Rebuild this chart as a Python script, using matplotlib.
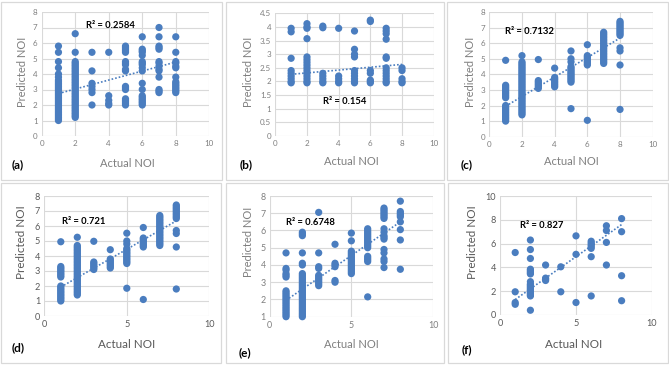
import matplotlib
matplotlib.use("Agg")
import matplotlib.pyplot as plt
from matplotlib.patches import Rectangle
import numpy as np

plt.rcParams['font.family'] = ['Lato', 'DejaVu Sans']

# ---------------- data ----------------
actual_noi = [1, 2, 3, 4, 5, 6, 7, 8]

a_pred = [
    [5.8, 5.4, 4.8, 4.4, 4.0, 3.8, 3.6, 3.5, 3.4, 3.3, 3.2, 3.1, 3.0, 2.9, 2.8, 2.7, 2.6, 2.5, 2.4,
     2.3, 2.2, 2.1, 2.0, 1.9, 1.8, 1.7, 1.6, 1.5, 1.4, 1.3, 1.2, 1.1, 1.0],
    [6.6, 5.4, 4.8, 4.7, 4.6, 4.5, 4.4, 4.3, 4.2, 4.1, 4.0, 3.9, 3.8, 3.7, 3.6, 3.5, 3.4, 3.3, 3.2,
     3.1, 3.0, 2.9, 2.8, 2.7, 2.6, 2.5, 2.4, 2.3, 2.2, 2.1, 2.0, 1.9, 1.8, 1.7, 1.6, 1.5, 1.4, 1.3, 1.2],
    [5.4, 4.2, 3.4, 3.2, 3.0, 2.8, 2.0],
    [5.4, 2.6, 2.3, 2.1, 2.0],
    [5.8, 5.7, 5.6, 5.5, 5.4, 4.8, 4.7, 4.6, 4.3, 4.2, 3.2, 3.1, 3.0, 2.4, 2.3, 2.2, 2.1, 2.0],
    [6.4, 5.6, 5.5, 5.4, 5.2, 4.8, 4.7, 4.6, 4.4, 4.2, 3.4, 3.0, 2.6, 2.5, 2.4, 2.3, 2.2, 2.1, 2.0],
    [7.0, 6.4, 5.8, 5.7, 5.6, 4.8, 4.7, 4.5, 4.3, 4.2, 3.8, 3.0, 2.9, 2.8],
    [6.4, 5.4, 4.8, 4.7, 4.5, 4.4, 3.8, 3.5, 3.4, 3.3, 3.2, 3.1, 3.0, 2.9, 2.8],
]
b_pred = [
    [3.95, 3.82, 2.85, 2.4, 2.3, 2.2, 2.1, 2.0, 1.95],
    [4.12, 4.0, 3.95, 3.57, 2.9, 2.8, 2.7, 2.6, 2.5, 2.4, 2.3, 2.2, 2.1, 2.0, 1.95],
    [4.03, 3.97, 2.3, 2.2, 2.1, 2.0, 1.95],
    [3.95, 2.2, 2.1, 2.0, 1.95],
    [3.85, 3.18, 3.0, 2.9, 2.4, 2.3, 2.2, 2.1, 2.0, 1.95],
    [4.25, 4.2, 2.4, 2.3, 2.05, 2.0, 1.95],
    [3.95, 3.85, 3.75, 3.55, 2.9, 2.85, 2.5, 2.4, 2.3, 2.2, 2.1, 2.0, 1.95],
    [2.5, 2.4, 2.1, 2.0, 1.95],
]
c_pred = [
    [4.9, 3.3, 3.2, 3.1, 3.0, 2.9, 2.8, 2.7, 2.6, 2.5, 2.0, 1.9, 1.8, 1.7, 1.6, 1.5, 1.4, 1.3, 1.2, 1.1, 1.0],
    [5.2, 4.8, 4.7, 4.6, 4.5, 4.4, 4.3, 4.2, 4.1, 4.0, 3.9, 3.8, 3.7, 3.6, 3.5, 3.4, 3.3, 3.2, 3.1,
     3.0, 2.9, 2.8, 2.7, 2.6, 2.5, 2.4, 2.3, 2.2, 2.1, 2.0, 1.9, 1.8, 1.7, 1.6, 1.5, 1.4],
    [4.95, 3.6, 3.5, 3.4, 3.3, 3.2, 3.1],
    [4.4, 3.8, 3.7, 3.6, 3.5, 3.4, 3.3, 3.2],
    [5.5, 5.0, 4.8, 4.5, 4.4, 4.3, 4.2, 4.1, 4.0, 3.9, 3.8, 3.7, 3.6, 3.5, 1.8],
    [5.9, 5.2, 5.1, 5.0, 4.9, 4.8, 4.7, 4.6, 1.05],
    [6.7, 6.6, 6.5, 6.4, 6.3, 6.2, 6.1, 6.0, 5.9, 5.8, 5.7, 5.6, 5.5, 5.4, 5.3, 5.2, 5.1, 5.0, 4.9, 4.8, 4.7],
    [7.4, 7.3, 7.2, 7.1, 7.0, 6.9, 6.8, 6.7, 6.6, 6.5, 5.7, 5.5, 4.6, 1.75],
]
d_pred = [
    [4.95, 3.3, 3.2, 3.1, 3.0, 2.9, 2.8, 2.7, 2.6, 2.0, 1.9, 1.8, 1.7, 1.6, 1.5, 1.4, 1.3, 1.2, 1.1, 1.0],
    [5.25, 4.7, 4.6, 4.5, 4.4, 4.3, 4.2, 4.1, 4.0, 3.9, 3.8, 3.7, 3.6, 3.5, 3.4, 3.3, 3.2, 3.1,
     3.0, 2.9, 2.8, 2.7, 2.6, 2.5, 2.4, 2.3, 2.2, 2.1, 2.0, 1.9, 1.8, 1.7, 1.6, 1.5, 1.4],
    [4.98, 3.6, 3.5, 3.4, 3.3, 3.2, 3.1],
    [4.42, 3.8, 3.7, 3.6, 3.5, 3.4, 3.3, 3.2],
    [5.52, 5.0, 4.8, 4.5, 4.4, 4.3, 4.2, 4.1, 4.0, 3.9, 3.8, 3.7, 3.6, 3.5, 1.85],
    [5.9, 5.2, 5.1, 5.0, 4.9, 4.8, 4.7, 4.6, 1.1],
    [6.7, 6.6, 6.5, 6.4, 6.3, 6.2, 6.1, 6.0, 5.9, 5.8, 5.7, 5.6, 5.5, 5.4, 5.3, 5.2, 5.1, 5.0, 4.9, 4.8, 4.7],
    [7.4, 7.3, 7.2, 7.1, 7.0, 6.9, 6.8, 6.7, 6.6, 6.5, 5.7, 5.5, 4.6, 1.8],
]
e_pred = [
    [4.7, 3.8, 3.7, 3.5, 3.4, 3.3, 2.5, 2.4, 2.3, 2.2, 2.1, 2.0, 1.9, 1.8, 1.7, 1.6, 1.5, 1.4, 1.3, 1.2, 1.1, 1.0],
    [5.9, 5.8, 5.7, 4.7, 4.1, 4.0, 3.5, 3.4, 3.3, 3.2, 3.1, 3.0, 2.9, 2.8, 2.7, 2.6, 2.5, 2.4, 2.3,
     2.2, 2.1, 2.0, 1.9, 1.8, 1.7, 1.6, 1.5, 1.4, 1.3, 1.2, 1.1, 1.0],
    [7.05, 4.7, 3.9, 3.8, 3.4, 3.3, 3.2, 3.1, 3.0, 2.9, 2.8],
    [5.2, 4.1, 4.0, 3.9, 3.1, 3.0],
    [5.85, 5.4, 4.8, 4.7, 4.6, 4.5, 4.4, 4.3, 4.2, 4.1, 4.0, 3.9, 3.8, 3.7, 3.6, 3.5],
    [6.1, 6.0, 5.9, 5.8, 5.7, 5.6, 5.5, 5.4, 5.3, 5.2, 5.1, 5.0, 4.5, 4.4, 4.3, 4.2, 2.15],
    [7.3, 7.2, 7.1, 7.0, 6.9, 6.8, 6.7, 6.1, 5.9, 5.7, 5.6, 5.5, 4.9, 4.7, 4.35, 4.2, 3.85],
    [7.7, 7.1, 7.0, 6.9, 6.8, 6.5, 6.05, 5.45, 3.75],
]
f_pred = [
    [5.25, 1.95, 1.05, 0.9],
    [6.3, 5.5, 4.75, 3.85, 3.75, 3.65, 3.55, 3.45, 2.8, 2.6, 2.5, 2.4, 2.3, 2.2, 2.1, 2.0, 1.9,
     1.8, 1.7, 1.6, 0.4],
    [4.2, 3.1, 3.0, 2.9],
    [4.05, 1.95],
    [6.65, 5.1, 1.05],
    [6.2, 6.05, 5.9, 5.75, 5.6, 4.9, 1.6],
    [7.5, 7.1, 6.1, 4.2],
    [8.1, 7.0, 3.3, 1.2],
]

# trend lines: (intercept, slope)
trend_a = (2.45, 0.29)
trend_b = (2.21, 0.052)
trend_c = (1.33, 0.625)
trend_d = (1.30, 0.63)
trend_e = (1.30, 0.65)
trend_f = (0.40, 0.90)

r2_labels = ["R\u00b2 = 0.2584", "R\u00b2 = 0.154", "R\u00b2 = 0.7132",
             "R\u00b2 = 0.721", "R\u00b2 = 0.6748", "R\u00b2 = 0.827"]
panel_labels = ["(a)", "(b)", "(c)", "(d)", "(e)", "(f)"]

# ---------------- layout ----------------
W, H = 669, 365
fig = plt.figure(figsize=(W / 100, H / 100), dpi=100)
BLUE = '#4a7dbf'
GRID = '#d9d9d9'


def fx(px):
    return px / W


def fy(py):
    return 1 - py / H


# panel frames (pixel boxes: left, top, right, bottom)
frames = [(1, 2, 222, 180), (226, 2, 444, 180), (447, 2, 668, 180),
          (1, 183, 221, 363), (226, 183, 444, 363), (448, 183, 668, 363)]
for (l, t, r, b) in frames:
    fig.add_artist(Rectangle((fx(l), fy(b)), fx(r) - fx(l), fy(t) - fy(b),
                             transform=fig.transFigure, fill=False,
                             edgecolor=GRID, lw=0.9))

# axes boxes (pixel: left, top, right, bottom)
boxes = [(41.7, 12, 209.3, 136), (275.3, 13.3, 433.7, 136), (489.3, 12, 652.7, 136.7),
         (44.3, 196, 209.3, 316), (269.7, 196, 433, 316.7), (500, 196, 652, 315)]

specs = [
    dict(data=a_pred, trend=trend_a, ylim=(0, 8), yticks=np.arange(0, 9, 1), xticks=[0, 2, 4, 6, 8, 10],
         r2pos=(2.62, 7.1), ylabx=22, ylaby=72, xlab=(127, 163), plab=(12, 165), fs_t=5.8, fs_l=8.0,
         ylabels=None),
    dict(data=b_pred, trend=trend_b, ylim=(0, 4.5), yticks=np.arange(0, 4.51, 0.5), xticks=[0, 2, 4, 6, 8, 10],
         r2pos=(3.0, 1.27), ylabx=248, ylaby=72, xlab=(351, 162), plab=(240, 165), fs_t=5.8, fs_l=8.0,
         ylabels=['0', '0.5', '1', '1.5', '2', '2.5', '3', '3.5', '4', '4.5']),
    dict(data=c_pred, trend=trend_c, ylim=(0, 8), yticks=np.arange(0, 9, 1), xticks=[0, 2, 4, 6, 8, 10],
         r2pos=(0.98, 6.78), ylabx=471, ylaby=72, xlab=(571, 162), plab=(461, 165), fs_t=5.8, fs_l=8.0,
         ylabels=None),
    dict(data=d_pred, trend=trend_d, ylim=(0, 8), yticks=np.arange(0, 9, 1), xticks=[0, 5, 10],
         r2pos=(1.1, 6.3), ylabx=22, ylaby=242, xlab=(127, 344), plab=(12, 348), fs_t=6.6, fs_l=8.4,
         ylabels=None),
    dict(data=e_pred, trend=trend_e, ylim=(1, 8), yticks=np.arange(1, 9, 1), xticks=[0, 5, 10],
         r2pos=(1.02, 6.47), ylabx=248, ylaby=242, xlab=(351, 345), plab=(239, 353), fs_t=6.4, fs_l=8.0,
         ylabels=None),
    dict(data=f_pred, trend=trend_f, ylim=(0, 10), yticks=np.arange(0, 11, 2), xticks=[0, 5, 10],
         r2pos=(1.32, 7.48), ylabx=473, ylaby=242, xlab=(574, 344), plab=(462, 350), fs_t=6.6, fs_l=8.4,
         ylabels=None),
]

for i, (box, sp) in enumerate(zip(boxes, specs)):
    l, t, r, b = box
    ax = fig.add_axes([fx(l), fy(b), fx(r) - fx(l), fy(t) - fy(b)])
    xs, ys = [], []
    for xv, col in zip(actual_noi, sp['data']):
        xs.extend([xv] * len(col))
        ys.extend(col)
    ax.scatter(xs, ys, s=27, color=BLUE, edgecolors='none', zorder=3, clip_on=False)
    icp, slp = sp['trend']
    tx = np.array([actual_noi[0], actual_noi[-1]], dtype=float)
    ax.plot(tx, icp + slp * tx, color=BLUE, lw=1.2, linestyle=(0, (1, 1.2)), zorder=4)
    ax.set_xlim(0, 10)
    ax.set_ylim(*sp['ylim'])
    ax.set_xticks(sp['xticks'])
    ax.set_yticks(sp['yticks'])
    if sp['ylabels'] is not None:
        ax.set_yticklabels(sp['ylabels'])
    ax.grid(True, color=GRID, lw=0.8, zorder=0)
    ax.set_axisbelow(True)
    for s in ax.spines.values():
        s.set_visible(False)
    tcol = '#595959' if i in (3, 5) else '#7f7f7f'
    ax.tick_params(length=0, labelsize=sp['fs_t'], colors=tcol, pad=3)
    ax.text(sp['r2pos'][0], sp['r2pos'][1], r2_labels[i], fontsize=6.8, fontweight='bold',
            color='black', ha='left', va='center', zorder=5)
    fig.text(fx(sp['ylabx']), fy(sp['ylaby']), "Predicted NOI", rotation=90, ha='center', va='center',
             fontsize=sp['fs_l'], color=tcol)
    fig.text(fx(sp['xlab'][0]), fy(sp['xlab'][1]), "Actual NOI", ha='center', va='center',
             fontsize=sp['fs_l'], color=tcol)
    fig.text(fx(sp['plab'][0]), fy(sp['plab'][1]), panel_labels[i], ha='left', va='center',
             fontsize=8.6, fontweight='bold', color='black')

fig.savefig('out.png', dpi=100)
